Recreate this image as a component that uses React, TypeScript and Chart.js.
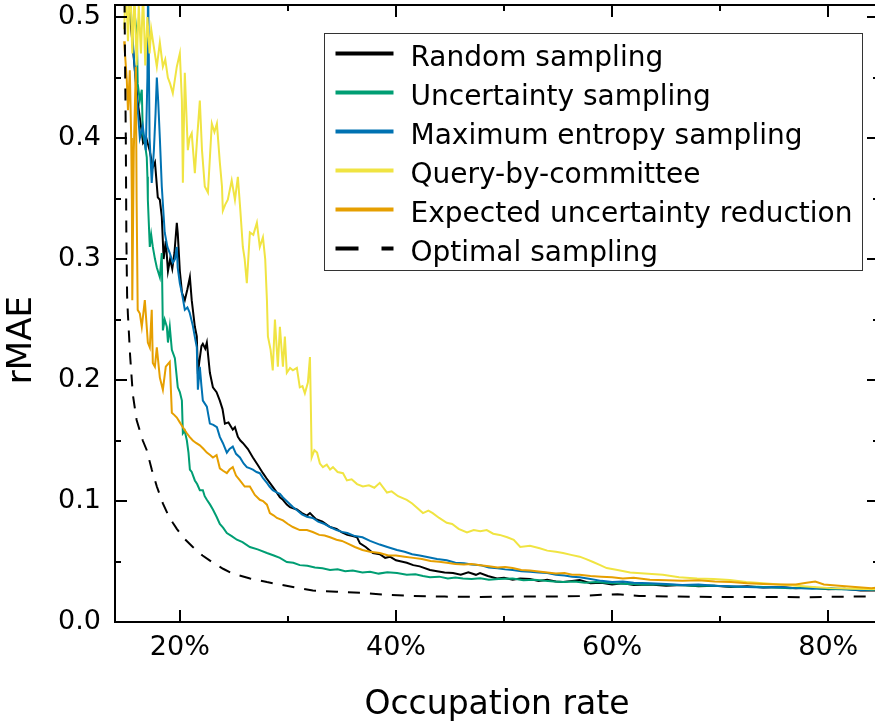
import React, { useEffect, useRef } from 'react';
import { Chart, registerables } from 'chart.js';

Chart.register(...registerables);

const FONT = 'DejaVu Sans';

const seriesLabels = [
  'Random sampling',
  'Uncertainty sampling',
  'Maximum entropy sampling',
  'Query-by-committee',
  'Expected uncertainty reduction',
  'Optimal sampling',
];
const seriesColors = ['#000000', '#009E73', '#0072B2', '#F0E442', '#E69F00', '#000000'];
const yAxisTitle = 'rMAE';
const xAxisTitle = 'Occupation rate';

const xTicks = [20, 40, 60, 80];
const xMinorTicks = [30, 50, 70];
const yTicks = [0, 0.1, 0.2, 0.3, 0.4, 0.5];
const yMinorTicks = [0.05, 0.15, 0.25, 0.35, 0.45];

const randomSampling: [number, number][] = [
  [15.2, 0.53], [15.5, 0.49], [15.8, 0.46], [16.1, 0.43], [16.4, 0.41], [16.6, 0.396], [16.9, 0.4], [17.2, 0.39],
  [17.5, 0.376], [17.7, 0.38], [17.96, 0.351], [18.15, 0.349], [18.33, 0.335], [18.5, 0.3], [18.7, 0.315], [18.9, 0.29],
  [19.1, 0.3], [19.3, 0.292], [19.5, 0.305], [19.72, 0.33], [19.81, 0.321], [20.0, 0.29], [20.2, 0.272], [20.46, 0.266],
  [20.7, 0.275], [20.93, 0.285], [21.1, 0.266], [21.39, 0.244], [21.57, 0.236], [21.67, 0.205], [21.8, 0.215], [22.0, 0.228],
  [22.13, 0.23], [22.35, 0.226], [22.5, 0.231], [22.78, 0.206], [23.06, 0.194], [23.4, 0.19], [23.7, 0.183], [23.95, 0.176],
  [24.17, 0.164], [24.5, 0.165], [24.9, 0.159], [25.1, 0.161], [25.37, 0.153], [25.6, 0.15], [25.83, 0.148], [26.3, 0.143],
  [26.76, 0.136], [27.2, 0.13], [27.69, 0.123], [28.0, 0.119], [28.33, 0.115], [28.9, 0.108], [29.26, 0.103], [29.54, 0.101],
  [29.9, 0.097], [30.19, 0.095], [30.5, 0.094], [30.83, 0.093], [31.3, 0.09], [31.76, 0.088], [32.04, 0.09], [32.6, 0.085],
  [33.2, 0.083], [33.9, 0.0785], [34.5, 0.077], [35.0, 0.074], [35.5, 0.072], [36.0, 0.071], [36.4, 0.07], [36.67, 0.065],
  [37.2, 0.062], [37.87, 0.057], [38.5, 0.056], [39.0, 0.053], [39.44, 0.054], [40.0, 0.051], [40.5, 0.05], [41.0, 0.049],
  [41.6, 0.047], [42.2, 0.046], [43.15, 0.043], [43.8, 0.042], [44.5, 0.041], [45.28, 0.0405], [46.0, 0.039], [46.7, 0.041],
  [47.4, 0.039], [47.78, 0.0405], [48.5, 0.038], [49.35, 0.036], [50.0, 0.0365], [50.8, 0.035], [51.5, 0.036], [52.4, 0.0355],
  [53.2, 0.034], [54.0, 0.035], [54.8, 0.0335], [55.46, 0.033], [56.3, 0.034], [57.0, 0.0347], [58.0, 0.032], [59.0, 0.0325],
  [60.0, 0.031], [61.0, 0.032], [62.0, 0.0305], [63.5, 0.031], [65.0, 0.03], [66.5, 0.0305], [68.0, 0.0295], [69.5, 0.03],
  [71.0, 0.029], [72.5, 0.0295], [74.0, 0.0285], [75.5, 0.029], [77.0, 0.028], [78.5, 0.0285], [80.0, 0.027], [81.5, 0.0275],
  [83.0, 0.026], [84.6, 0.026],
];

const uncertaintySampling: [number, number][] = [
  [15.5, 0.55], [15.65, 0.52], [15.85, 0.5], [16.02, 0.487], [16.1, 0.445], [16.3, 0.431], [16.48, 0.44], [16.57, 0.404],
  [16.76, 0.396], [16.94, 0.384], [17.0, 0.368], [17.04, 0.349], [17.22, 0.31], [17.35, 0.32], [17.5, 0.31], [17.7, 0.3],
  [17.87, 0.293], [18.15, 0.285], [18.33, 0.305], [18.43, 0.241], [18.6, 0.25], [18.8, 0.244], [18.9, 0.231], [19.07, 0.244],
  [19.26, 0.225], [19.54, 0.218], [19.81, 0.194], [20.0, 0.19], [20.19, 0.183], [20.28, 0.156], [20.45, 0.158], [20.65, 0.15],
  [20.8, 0.14], [20.93, 0.126], [21.1, 0.124], [21.39, 0.117], [21.6, 0.114], [21.85, 0.109], [22.13, 0.109], [22.3, 0.104],
  [22.5, 0.101], [22.8, 0.097], [23.06, 0.093], [23.4, 0.087], [23.7, 0.081], [24.0, 0.078], [24.35, 0.0735], [24.8, 0.071],
  [25.28, 0.068], [25.8, 0.066], [26.48, 0.062], [27.2, 0.06], [28.06, 0.057], [28.7, 0.055], [29.26, 0.053], [29.9, 0.0496],
  [30.5, 0.049], [31.1, 0.047], [31.8, 0.0465], [32.5, 0.045], [33.2, 0.0445], [33.9, 0.043], [34.6, 0.0435], [35.3, 0.042],
  [36.0, 0.0425], [36.9, 0.041], [37.6, 0.0415], [38.4, 0.04], [39.2, 0.0412], [40.1, 0.0405], [41.0, 0.039], [41.8, 0.0395],
  [42.5, 0.038], [43.15, 0.037], [44.0, 0.0375], [44.8, 0.036], [45.5, 0.0368], [46.2, 0.036], [47.0, 0.0355], [47.8, 0.0362],
  [48.6, 0.035], [49.5, 0.0356], [50.8, 0.036], [51.8, 0.0345], [52.8, 0.035], [53.8, 0.034], [54.6, 0.0335], [55.5, 0.033],
  [56.5, 0.0335], [57.5, 0.0325], [58.5, 0.033], [60.0, 0.032], [61.5, 0.0315], [63.0, 0.031], [64.5, 0.031], [66.0, 0.0305],
  [67.5, 0.03], [69.0, 0.0302], [70.5, 0.0295], [72.0, 0.029], [73.5, 0.0292], [75.0, 0.0285], [76.5, 0.028], [78.0, 0.0283],
  [79.5, 0.0275], [81.0, 0.027], [82.5, 0.0272], [84.0, 0.0265], [84.6, 0.027],
];

const maximumEntropy: [number, number][] = [
  [15.2, 0.55], [15.5, 0.5], [15.8, 0.46], [16.05, 0.43], [16.3, 0.4], [16.57, 0.41], [16.85, 0.39], [17.0, 0.45],
  [17.06, 0.53], [17.2, 0.4], [17.4, 0.363], [17.6, 0.39], [17.75, 0.42], [17.87, 0.45], [18.0, 0.43], [18.15, 0.4],
  [18.33, 0.36], [18.6, 0.322], [18.85, 0.31], [19.07, 0.305], [19.35, 0.297], [19.55, 0.3], [19.72, 0.31], [19.8, 0.293],
  [20.0, 0.28], [20.19, 0.272], [20.46, 0.258], [20.7, 0.26], [20.9, 0.256], [21.2, 0.245], [21.4, 0.235], [21.57, 0.227],
  [21.67, 0.192], [21.85, 0.211], [22.0, 0.195], [22.13, 0.183], [22.5, 0.178], [22.78, 0.164], [23.1, 0.163], [23.43, 0.161],
  [23.7, 0.153], [23.98, 0.148], [24.35, 0.14], [24.6, 0.143], [24.9, 0.145], [25.2, 0.139], [25.56, 0.136], [25.9, 0.131],
  [26.2, 0.128], [26.5, 0.127], [26.76, 0.126], [27.1, 0.124], [27.4, 0.123], [27.7, 0.119], [28.06, 0.115], [28.3, 0.112],
  [28.6, 0.109], [29.0, 0.107], [29.26, 0.106], [29.54, 0.103], [30.0, 0.099], [30.46, 0.095], [30.9, 0.092], [31.3, 0.089],
  [31.76, 0.087], [32.3, 0.086], [32.8, 0.083], [33.4, 0.081], [33.9, 0.0785], [34.5, 0.076], [35.0, 0.0745], [35.5, 0.0735],
  [36.2, 0.071], [36.9, 0.07], [37.6, 0.067], [38.5, 0.064], [39.2, 0.062], [40.1, 0.0595], [40.8, 0.058], [41.5, 0.056],
  [42.2, 0.055], [43.0, 0.0535], [43.8, 0.052], [44.7, 0.051], [45.5, 0.049], [46.3, 0.0485], [47.0, 0.0475], [47.8, 0.047],
  [48.6, 0.045], [49.4, 0.0445], [50.1, 0.0435], [50.8, 0.043], [51.6, 0.042], [52.4, 0.0415], [53.2, 0.041], [54.0, 0.0405],
  [54.8, 0.039], [55.6, 0.0385], [56.3, 0.0375], [57.0, 0.037], [58.0, 0.0355], [59.0, 0.034], [60.0, 0.033], [61.0, 0.0335],
  [62.0, 0.0325], [63.5, 0.032], [65.0, 0.0315], [66.5, 0.0305], [68.0, 0.031], [69.5, 0.03], [71.0, 0.0295], [72.5, 0.029],
  [74.0, 0.0285], [75.5, 0.029], [77.0, 0.028], [78.5, 0.0275], [80.0, 0.028], [81.5, 0.027], [83.0, 0.0265], [84.6, 0.027],
];

const queryByCommittee: [number, number][] = [
  [14.85, 0.49], [15.0, 0.53], [15.2, 0.48], [15.4, 0.53], [15.6, 0.47], [15.8, 0.52], [16.0, 0.46], [16.2, 0.51],
  [16.4, 0.47], [16.6, 0.52], [16.8, 0.46], [17.0, 0.5], [17.2, 0.47], [17.35, 0.49], [17.5, 0.481], [17.87, 0.459],
  [18.15, 0.479], [18.43, 0.459], [18.65, 0.465], [18.89, 0.45], [19.1, 0.445], [19.35, 0.437], [19.72, 0.459], [20.0, 0.47],
  [20.19, 0.431], [20.28, 0.363], [20.46, 0.454], [20.74, 0.39], [20.9, 0.4], [21.1, 0.404], [21.39, 0.371], [21.6, 0.4],
  [21.85, 0.431], [22.05, 0.39], [22.31, 0.36], [22.6, 0.355], [22.96, 0.412], [23.2, 0.405], [23.43, 0.412], [23.7, 0.38],
  [23.9, 0.36], [23.98, 0.34], [24.2, 0.345], [24.44, 0.349], [24.8, 0.365], [25.1, 0.349], [25.37, 0.368], [25.6, 0.34],
  [25.83, 0.31], [26.0, 0.3], [26.2, 0.28], [26.48, 0.322], [26.8, 0.32], [27.13, 0.33], [27.4, 0.31], [27.69, 0.318],
  [27.9, 0.3], [28.06, 0.266], [28.15, 0.236], [28.4, 0.225], [28.6, 0.208], [28.8, 0.25], [29.07, 0.211], [29.26, 0.244],
  [29.54, 0.211], [29.72, 0.236], [29.9, 0.206], [30.2, 0.21], [30.46, 0.208], [30.83, 0.21], [31.1, 0.194], [31.35, 0.195],
  [31.57, 0.189], [31.85, 0.198], [32.04, 0.219], [32.12, 0.18], [32.2, 0.136], [32.45, 0.142], [32.7, 0.14], [32.96, 0.131],
  [33.24, 0.128], [33.6, 0.13], [33.9, 0.126], [34.17, 0.128], [34.6, 0.124], [35.1, 0.123], [35.46, 0.117], [35.9, 0.118],
  [36.4, 0.114], [36.94, 0.112], [37.5, 0.113], [38.0, 0.111], [38.5, 0.115], [39.17, 0.107], [39.6, 0.108], [40.2, 0.104],
  [41.0, 0.101], [41.5, 0.098], [42.0, 0.094], [42.5, 0.09], [43.0, 0.092], [43.4, 0.09], [44.0, 0.086], [44.7, 0.082],
  [45.2, 0.081], [45.8, 0.077], [46.57, 0.074], [47.2, 0.076], [47.8, 0.075], [48.4, 0.076], [49.0, 0.073], [49.6, 0.072],
  [50.3, 0.07], [50.9, 0.068], [51.5, 0.062], [52.4, 0.063], [53.3, 0.061], [54.0, 0.059], [54.8, 0.058], [55.46, 0.057],
  [56.2, 0.0555], [57.0, 0.054], [57.6, 0.052], [58.24, 0.0496], [58.9, 0.047], [59.5, 0.0446], [60.5, 0.043], [61.67, 0.041],
  [63.0, 0.04], [64.7, 0.039], [66.2, 0.037], [67.87, 0.036], [69.4, 0.0355], [70.9, 0.0347], [72.4, 0.033], [74.0, 0.032],
  [75.5, 0.031], [77.1, 0.03], [78.6, 0.029], [80.2, 0.028], [82.2, 0.0275], [84.6, 0.027],
];

const expectedReduction: [number, number][] = [
  [14.85, 0.48], [14.9, 0.473], [15.09, 0.448], [15.2, 0.423], [15.37, 0.456], [15.5, 0.4], [15.56, 0.349], [15.6, 0.266],
  [15.74, 0.39], [15.93, 0.459], [16.0, 0.349], [16.1, 0.258], [16.3, 0.255], [16.48, 0.244], [16.76, 0.266], [17.04, 0.231],
  [17.22, 0.227], [17.4, 0.258], [17.5, 0.214], [17.69, 0.211], [17.87, 0.227], [18.15, 0.202], [18.43, 0.192], [18.7, 0.211],
  [19.07, 0.215], [19.26, 0.173], [19.5, 0.171], [19.72, 0.169], [20.0, 0.165], [20.28, 0.161], [20.65, 0.156], [20.9, 0.153],
  [21.2, 0.15], [21.5, 0.148], [21.85, 0.146], [22.2, 0.143], [22.5, 0.14], [22.8, 0.138], [23.06, 0.136], [23.4, 0.138],
  [23.7, 0.127], [24.0, 0.125], [24.35, 0.123], [24.6, 0.126], [24.9, 0.128], [25.2, 0.121], [25.56, 0.117], [26.0, 0.112],
  [26.48, 0.112], [26.94, 0.105], [27.4, 0.101], [27.7, 0.1], [28.06, 0.097], [28.33, 0.09], [28.7, 0.088], [28.98, 0.086],
  [29.54, 0.084], [30.0, 0.081], [30.46, 0.0785], [31.1, 0.076], [31.76, 0.076], [32.3, 0.0744], [32.9, 0.072], [33.4, 0.0715],
  [33.9, 0.07], [34.5, 0.068], [35.0, 0.067], [35.5, 0.065], [36.2, 0.062], [36.9, 0.0595], [37.6, 0.058], [38.5, 0.057],
  [39.3, 0.055], [40.0, 0.055], [40.8, 0.054], [41.6, 0.053], [42.4, 0.052], [43.2, 0.0505], [44.0, 0.0498], [44.7, 0.049],
  [45.5, 0.048], [46.3, 0.0475], [47.0, 0.048], [47.8, 0.047], [48.6, 0.046], [49.4, 0.045], [50.1, 0.0455], [50.8, 0.0446],
  [51.6, 0.043], [52.4, 0.0425], [53.2, 0.0418], [54.0, 0.041], [54.8, 0.04], [55.6, 0.0405], [56.3, 0.039], [57.0, 0.039],
  [58.0, 0.038], [59.0, 0.0375], [60.0, 0.037], [61.0, 0.036], [62.0, 0.0365], [63.5, 0.035], [65.0, 0.0345], [66.5, 0.034],
  [68.0, 0.0345], [69.5, 0.0335], [71.0, 0.033], [72.5, 0.032], [74.0, 0.0315], [75.5, 0.031], [77.0, 0.031], [78.0, 0.0325],
  [78.8, 0.0335], [79.6, 0.031], [81.0, 0.03], [82.5, 0.029], [84.0, 0.028], [84.6, 0.0285],
];

const optimalSampling: [number, number][] = [
  [14.85, 0.55], [14.91, 0.483], [15.0, 0.4], [15.05, 0.32], [15.12, 0.27], [15.19, 0.255], [15.4, 0.22], [15.65, 0.188],
  [16.0, 0.167], [16.57, 0.15], [16.94, 0.142], [17.4, 0.126], [17.87, 0.112], [18.43, 0.098], [19.0, 0.087], [19.35, 0.082],
  [19.72, 0.077], [20.3, 0.07], [21.2, 0.062], [22.1, 0.055], [23.06, 0.049], [24.0, 0.044], [24.9, 0.04], [26.5, 0.036],
  [28.06, 0.033], [30.46, 0.029], [32.3, 0.026], [34.5, 0.025], [36.9, 0.024], [39.0, 0.0225], [41.6, 0.0215], [44.5, 0.021],
  [47.8, 0.0207], [51.0, 0.021], [54.0, 0.021], [57.0, 0.0215], [59.0, 0.0225], [60.5, 0.023], [62.5, 0.0215], [66.0, 0.021],
  [70.0, 0.0207], [74.0, 0.0207], [78.0, 0.0205], [82.0, 0.021], [84.6, 0.021],
];

const seriesData = [
  randomSampling,
  uncertaintySampling,
  maximumEntropy,
  queryByCommittee,
  expectedReduction,
  optimalSampling,
];

const framePlugin = {
  id: 'frameAndLegend',
  afterDraw(chart: any) {
    const { ctx, chartArea, scales } = chart;
    const { left, right, top, bottom } = chartArea;
    const xs = scales.x;
    const ys = scales.y;
    ctx.save();
    ctx.strokeStyle = '#000';
    ctx.lineWidth = 2;
    ctx.lineCap = 'butt';
    ctx.strokeRect(left, top, right - left, bottom - top);
    const drawX = (vals: number[], len: number) => {
      vals.forEach((v) => {
        const px = Math.round(xs.getPixelForValue(v));
        ctx.beginPath();
        ctx.moveTo(px, bottom);
        ctx.lineTo(px, bottom - len);
        ctx.moveTo(px, top);
        ctx.lineTo(px, top + len);
        ctx.stroke();
      });
    };
    const drawY = (vals: number[], len: number) => {
      vals.forEach((v) => {
        const py = Math.round(ys.getPixelForValue(v));
        ctx.beginPath();
        ctx.moveTo(left, py);
        ctx.lineTo(left + len, py);
        ctx.moveTo(right, py);
        ctx.lineTo(right - len, py);
        ctx.stroke();
      });
    };
    drawX(xTicks, 12);
    drawX(xMinorTicks, 6);
    drawY(yTicks, 12);
    drawY(yMinorTicks, 6);

    // y axis title, placed as in the reference (slightly below the axis centre)
    ctx.save();
    ctx.translate(22, ys.getPixelForValue(0.233));
    ctx.rotate(-Math.PI / 2);
    ctx.font = `34px "${FONT}"`;
    ctx.fillStyle = '#000';
    ctx.textAlign = 'center';
    ctx.textBaseline = 'middle';
    ctx.fillText(yAxisTitle, 0, 0);
    ctx.restore();

    // legend
    const lx = left + 209.5;
    const ly = top + 28.5;
    ctx.lineWidth = 1;
    ctx.strokeStyle = '#333';
    ctx.strokeRect(lx, ly, 538, 237);
    ctx.font = `28px "${FONT}"`;
    ctx.textBaseline = 'alphabetic';
    ctx.textAlign = 'left';
    chart.data.datasets.forEach((ds: any, i: number) => {
      const rowY = ly + 20 + i * 39;
      ctx.beginPath();
      ctx.lineWidth = 4;
      ctx.strokeStyle = ds.borderColor;
      ctx.setLineDash(ds.borderDash && ds.borderDash.length ? [23, 23] : []);
      ctx.moveTo(lx + 11, rowY);
      ctx.lineTo(lx + 69, rowY);
      ctx.stroke();
      ctx.setLineDash([]);
      ctx.fillStyle = '#000';
      ctx.fillText(ds.label, lx + 86, rowY + 12);
    });
    ctx.restore();
  },
};

export default function App() {
  const canvasRef = useRef<HTMLCanvasElement | null>(null);

  useEffect(() => {
    const canvas = canvasRef.current;
    if (!canvas) return;
    Chart.defaults.font.family = FONT;
    Chart.defaults.color = '#000';
    const datasets = seriesData.map((series, i) => ({
      label: seriesLabels[i],
      data: series.map(([x, y]) => ({ x, y })),
      borderColor: seriesColors[i],
      backgroundColor: seriesColors[i],
      borderWidth: 2,
      borderDash: i === 5 ? [12, 10] : [],
      pointRadius: 0,
      tension: 0,
      fill: false,
      order: seriesData.length - i,
    }));
    const chart = new Chart(canvas, {
      type: 'line',
      data: { datasets },
      plugins: [framePlugin],
      options: {
        animation: false,
        responsive: false,
        devicePixelRatio: 1,
        layout: { padding: { top: 5, right: 3, left: 0, bottom: 0 } },
        plugins: { legend: { display: false }, tooltip: { enabled: false } },
        scales: {
          x: {
            type: 'linear',
            min: 14,
            max: 84.7,
            afterBuildTicks: (scale: any) => {
              scale.ticks = xTicks.map((v) => ({ value: v }));
            },
            afterFit: (scale: any) => {
              scale.height = 106;
              scale.paddingLeft = 0;
              scale.paddingRight = 0;
            },
            ticks: {
              callback: (v: any) => `${v}%`,
              font: { family: FONT, size: 27 },
              color: '#000',
              padding: 10,
              maxRotation: 0,
              autoSkip: false,
            },
            grid: { display: false, drawTicks: false },
            border: { display: false },
            title: {
              display: true,
              text: xAxisTitle,
              font: { family: FONT, size: 33 },
              color: '#000',
              padding: { top: 0, bottom: 3 },
            },
          },
          y: {
            type: 'linear',
            min: 0,
            max: 0.51,
            afterBuildTicks: (scale: any) => {
              scale.ticks = yTicks.map((v) => ({ value: v }));
            },
            afterFit: (scale: any) => {
              scale.width = 115;
              scale.paddingTop = 0;
              scale.paddingBottom = 0;
            },
            ticks: {
              callback: (v: any) => Number(v).toFixed(1),
              font: { family: FONT, size: 27 },
              color: '#000',
              padding: 14,
              autoSkip: false,
            },
            grid: { display: false, drawTicks: false },
            border: { display: false },
            title: { display: false },
          },
        },
      },
    });
    return () => chart.destroy();
  }, []);

  return (
    <div
      style={{
        position: 'fixed',
        left: 0,
        top: 0,
        width: 875,
        height: 728,
        overflow: 'hidden',
        background: '#fff',
      }}
    >
      <canvas ref={canvasRef} width={882} height={728} style={{ display: 'block', width: 882, height: 728 }} />
    </div>
  );
}
